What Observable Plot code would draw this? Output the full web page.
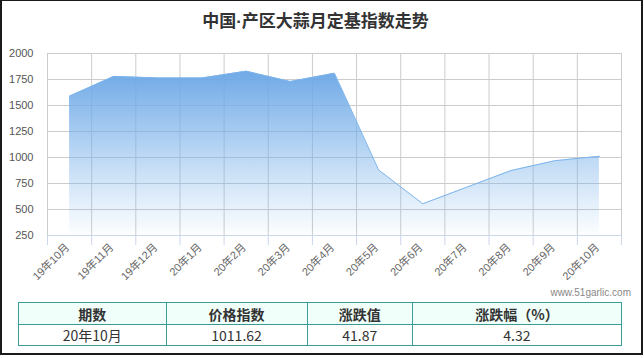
<!DOCTYPE html>
<html>
<head>
<meta charset="utf-8">
<script src="https://cdn.jsdelivr.net/npm/d3@7"></script>
<script src="https://cdn.jsdelivr.net/npm/@observablehq/plot@0.6"></script>
<style>
  html, body { margin: 0; padding: 0; background: #fff; }
  #wrap { position: relative; width: 644px; height: 358px; overflow: hidden; font-family: "Liberation Sans", "Noto Sans CJK SC", sans-serif; }
  #frame { position: absolute; left: 0; top: 0; width: 643px; height: 355px; box-sizing: border-box; border: 2px solid #1a1a1a; border-top-width: 1px; pointer-events: none; }
  #chart { position: absolute; left: 0; top: 0; }
  #title { position: absolute; left: 0; top: 10px; width: 631px; text-align: center; font-size: 17px; font-weight: bold; color: #333; line-height: 24px; font-family: "Liberation Sans", "Noto Sans CJK SC", sans-serif; }
  #mark { position: absolute; right: 13px; top: 286px; font-size: 10px; color: #888; line-height: 14px; }
  table { position: absolute; left: 18px; top: 302px; border-collapse: collapse; width: 604px; font-family: "Noto Sans CJK SC", "Liberation Sans", sans-serif; color: #333; font-size: 14px; }
  td, th { border: 1px solid #3a9c99; text-align: center; padding: 0; line-height: 18px; }
  th { background: #f0fffa; height: 21px; font-weight: bold; font-size: 14px; }
  td { height: 20px; }
</style>
</head>
<body>
<div id="wrap">
  <div id="chart"></div>
  <div id="title"></div>
  <div id="mark"></div>
  <table id="tbl"><thead><tr></tr></thead><tbody><tr></tr></tbody></table>
  <div id="frame"></div>
</div>
<script>
const titleText = "中国·产区大蒜月定基指数走势";
const months = ["19年10月","19年11月","19年12月","20年1月","20年2月","20年3月","20年4月","20年5月","20年6月","20年7月","20年8月","20年9月","20年10月"];
const values = [1590, 1780, 1765, 1765, 1830, 1730, 1810, 880, 555, 715, 875, 969.75, 1011.62];
const yTicks = [250, 500, 750, 1000, 1250, 1500, 1750, 2000];
const tableHeaders = ["期数", "价格指数", "涨跌值", "涨跌幅（%）"];
const tableRow = ["20年10月", "1011.62", "41.87", "4.32"];
const colWidths = [148, 141, 105, 210];
const watermark = "www.51garlic.com";

const data = months.map((m, i) => ({i, m, v: values[i]}));
const idx = d3.range(months.length);
const edges = d3.range(months.length + 1).map(i => i - 0.5);

const svg = Plot.plot({
  width: 644,
  height: 290,
  marginTop: 53,
  marginBottom: 55,
  marginLeft: 47,
  marginRight: 23,
  style: {fontFamily: "Liberation Sans, Noto Sans CJK SC, sans-serif", fontSize: "11px", background: "transparent"},
  x: {type: "linear", domain: [-0.5, months.length - 0.5], label: null},
  y: {domain: [250, 2000], label: null},
  marks: [
    Plot.ruleY(yTicks.slice(1), {stroke: "#cccccc", strokeOpacity: 1}),
    Plot.ruleX(edges, {y1: 250, y2: 2000, stroke: "#cccccc", strokeOpacity: 1}),
    Plot.areaY(data, {x: "i", y1: 250, y2: "v", fill: "url(#areaGrad)"}),
    Plot.lineY(data, {x: "i", y: "v", stroke: "#7cb5ec", strokeWidth: 1}),
    Plot.ruleY([250], {stroke: "#ccd6eb", strokeOpacity: 1}),
    Plot.axisY({ticks: yTicks, tickSize: 0, tickPadding: 14, tickFormat: d => String(d), fill: "#555", fontSize: 11}),
    Plot.axisX({ticks: edges, tickSize: 10, tickFormat: () => "", stroke: "#ccd6eb", strokeOpacity: 1}),
    Plot.axisX({ticks: idx, tickSize: 0, tickPadding: 10, tickRotate: -45, dx: -2, tickFormat: i => months[i], fill: "#666", fontSize: 11})
  ]
});

const defs = d3.select(svg).insert("defs", ":first-child");
const grad = defs.append("linearGradient").attr("id", "areaGrad").attr("x1", 0).attr("y1", 0).attr("x2", 0).attr("y2", 1);
grad.append("stop").attr("offset", "0%").attr("stop-color", "#6fa9e6").attr("stop-opacity", 1);
grad.append("stop").attr("offset", "100%").attr("stop-color", "#7cb5ec").attr("stop-opacity", 0.02);

document.getElementById("chart").appendChild(svg);
document.getElementById("title").textContent = titleText;
document.getElementById("mark").textContent = watermark;

const hr = d3.select("#tbl thead tr");
tableHeaders.forEach((h, k) => hr.append("th").style("width", colWidths[k] + "px").text(h));
const br = d3.select("#tbl tbody tr");
tableRow.forEach(c => br.append("td").text(c));
</script>
</body>
</html>
